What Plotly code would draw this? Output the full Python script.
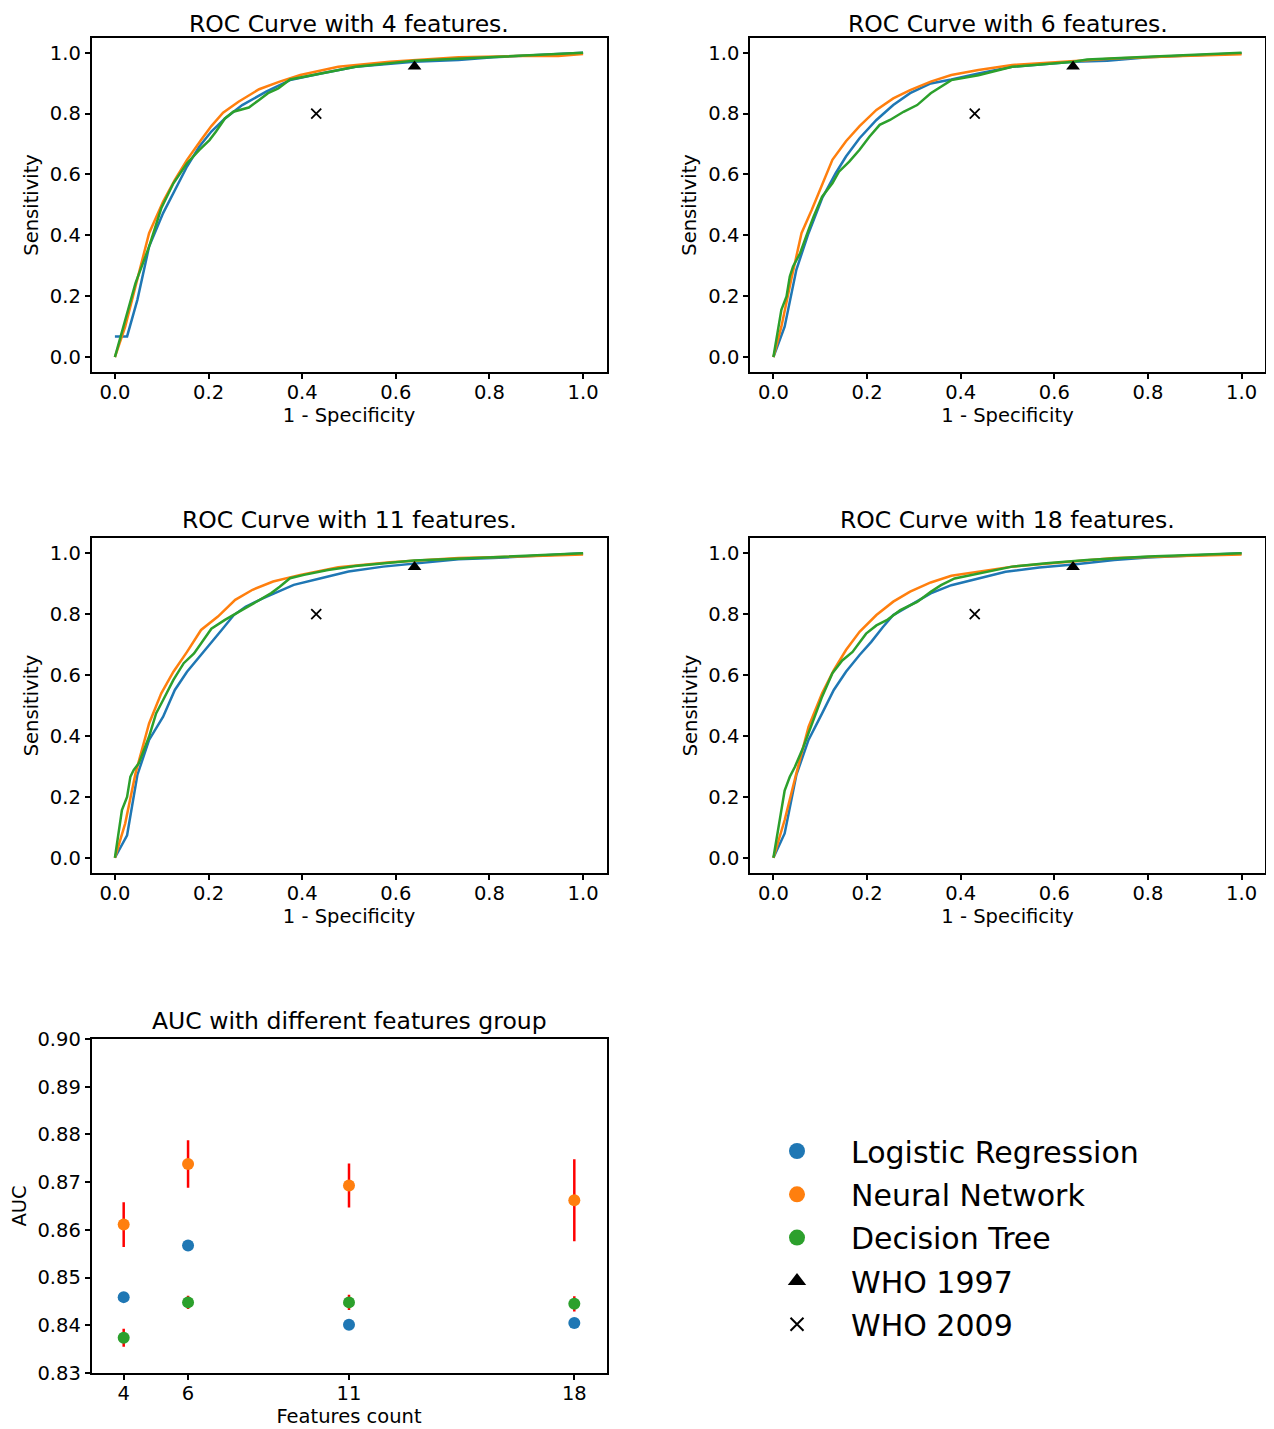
import plotly.graph_objects as go

# ---------------- data ----------------
feature_groups = [4, 6, 11, 18]
model_names = ["Logistic Regression", "Neural Network", "Decision Tree"]
colors = ["#1f77b4", "#ff7f0e", "#2ca02c"]

# ROC curves, 4 features
lr4_fpr = [0.0, 0.026, 0.048, 0.073, 0.103, 0.128, 0.154, 0.18, 0.206, 0.235, 0.272, 0.323, 0.374, 0.44, 0.514, 0.639, 0.734, 0.808, 1.0]
lr4_tpr = [0.068, 0.068, 0.188, 0.363, 0.473, 0.549, 0.626, 0.691, 0.741, 0.784, 0.828, 0.872, 0.91, 0.932, 0.954, 0.97, 0.976, 0.985, 1.0]
nn4_fpr = [0.0, 0.022, 0.073, 0.103, 0.128, 0.154, 0.184, 0.206, 0.231, 0.264, 0.308, 0.352, 0.396, 0.477, 0.587, 0.734, 0.881, 0.947, 1.0]
nn4_tpr = [0.0, 0.1, 0.407, 0.511, 0.582, 0.648, 0.713, 0.759, 0.803, 0.839, 0.88, 0.905, 0.927, 0.954, 0.97, 0.985, 0.99, 0.989, 0.996]
dt4_fpr = [0.0, 0.044, 0.073, 0.099, 0.125, 0.154, 0.18, 0.202, 0.216, 0.235, 0.253, 0.286, 0.308, 0.327, 0.349, 0.374, 0.44, 0.514, 0.639, 0.808, 1.0]
dt4_tpr = [0.0, 0.243, 0.363, 0.489, 0.571, 0.637, 0.68, 0.713, 0.741, 0.784, 0.806, 0.82, 0.845, 0.867, 0.883, 0.912, 0.932, 0.954, 0.974, 0.987, 1.0]

# ROC curves, 6 features
lr6_fpr = [0.0, 0.024, 0.049, 0.075, 0.104, 0.133, 0.155, 0.184, 0.22, 0.256, 0.292, 0.336, 0.38, 0.438, 0.51, 0.641, 0.713, 0.8, 1.0]
lr6_tpr = [0.0, 0.1, 0.287, 0.407, 0.522, 0.604, 0.659, 0.719, 0.779, 0.828, 0.867, 0.899, 0.912, 0.932, 0.954, 0.97, 0.974, 0.985, 0.998]
nn6_fpr = [0.0, 0.017, 0.038, 0.06, 0.082, 0.104, 0.126, 0.155, 0.184, 0.22, 0.256, 0.292, 0.336, 0.38, 0.438, 0.51, 0.619, 0.728, 0.873, 1.0]
nn6_tpr = [0.0, 0.1, 0.254, 0.407, 0.484, 0.566, 0.648, 0.709, 0.759, 0.812, 0.85, 0.877, 0.905, 0.927, 0.943, 0.96, 0.97, 0.981, 0.989, 0.995]
dt6_fpr = [0.0, 0.017, 0.028, 0.035, 0.042, 0.057, 0.075, 0.086, 0.104, 0.126, 0.14, 0.162, 0.184, 0.205, 0.227, 0.249, 0.278, 0.307, 0.336, 0.358, 0.38, 0.438, 0.51, 0.641, 0.67, 0.8, 1.0]
dt6_tpr = [0.0, 0.155, 0.199, 0.265, 0.298, 0.341, 0.418, 0.462, 0.527, 0.571, 0.609, 0.642, 0.681, 0.724, 0.763, 0.779, 0.806, 0.828, 0.867, 0.888, 0.91, 0.926, 0.954, 0.97, 0.978, 0.987, 1.0]

# ROC curves, 11 features
lr11_fpr = [0.0, 0.026, 0.048, 0.073, 0.103, 0.128, 0.154, 0.184, 0.206, 0.228, 0.254, 0.279, 0.316, 0.382, 0.44, 0.499, 0.573, 0.639, 0.734, 0.808, 1.0]
lr11_tpr = [0.0, 0.074, 0.272, 0.387, 0.463, 0.551, 0.611, 0.666, 0.704, 0.748, 0.797, 0.824, 0.852, 0.896, 0.918, 0.94, 0.956, 0.965, 0.98, 0.984, 1.0]
nn11_fpr = [0.0, 0.022, 0.044, 0.073, 0.099, 0.125, 0.154, 0.184, 0.22, 0.257, 0.294, 0.338, 0.396, 0.477, 0.587, 0.734, 0.881, 1.0]
nn11_tpr = [0.0, 0.113, 0.277, 0.441, 0.54, 0.611, 0.676, 0.748, 0.792, 0.847, 0.88, 0.907, 0.929, 0.954, 0.97, 0.984, 0.99, 0.996]
dt11_fpr = [0.0, 0.015, 0.026, 0.033, 0.04, 0.051, 0.073, 0.088, 0.103, 0.125, 0.147, 0.169, 0.206, 0.235, 0.272, 0.308, 0.334, 0.352, 0.374, 0.404, 0.455, 0.514, 0.639, 0.808, 1.0]
dt11_tpr = [0.0, 0.157, 0.2, 0.266, 0.288, 0.31, 0.398, 0.474, 0.518, 0.584, 0.639, 0.671, 0.752, 0.781, 0.814, 0.847, 0.869, 0.89, 0.918, 0.929, 0.945, 0.958, 0.976, 0.987, 1.0]

# ROC curves, 18 features
lr18_fpr = [0.0, 0.024, 0.049, 0.075, 0.104, 0.129, 0.155, 0.184, 0.209, 0.234, 0.256, 0.292, 0.336, 0.38, 0.438, 0.496, 0.568, 0.641, 0.728, 0.8, 1.0]
lr18_tpr = [0.0, 0.08, 0.272, 0.387, 0.474, 0.551, 0.611, 0.666, 0.709, 0.758, 0.797, 0.829, 0.868, 0.895, 0.917, 0.939, 0.953, 0.963, 0.978, 0.986, 1.0]
nn18_fpr = [0.0, 0.024, 0.049, 0.075, 0.104, 0.129, 0.155, 0.184, 0.22, 0.256, 0.292, 0.336, 0.38, 0.438, 0.51, 0.619, 0.728, 0.873, 1.0]
nn18_tpr = [0.0, 0.124, 0.277, 0.43, 0.54, 0.616, 0.682, 0.742, 0.797, 0.841, 0.874, 0.904, 0.926, 0.94, 0.956, 0.97, 0.984, 0.991, 0.996]
dt18_fpr = [0.0, 0.017, 0.024, 0.035, 0.046, 0.064, 0.082, 0.104, 0.126, 0.147, 0.169, 0.198, 0.22, 0.242, 0.271, 0.307, 0.336, 0.358, 0.387, 0.438, 0.51, 0.583, 0.67, 0.8, 1.0]
dt18_tpr = [0.0, 0.157, 0.221, 0.266, 0.299, 0.364, 0.441, 0.529, 0.606, 0.648, 0.676, 0.736, 0.763, 0.78, 0.813, 0.84, 0.873, 0.895, 0.917, 0.934, 0.956, 0.967, 0.978, 0.989, 1.0]

# WHO criteria points (1 - specificity, sensitivity)
who1997_fpr = [0.64]
who1997_tpr = [0.955]
who2009_fpr = [0.43]
who2009_tpr = [0.80]

# AUC means and standard deviations
auc_lr = [0.8459, 0.8567, 0.8401, 0.8405]
auc_nn = [0.8611, 0.8738, 0.8693, 0.8662]
auc_dt = [0.8374, 0.8448, 0.8448, 0.8445]
auc_nn_err = [0.0047, 0.0050, 0.0046, 0.0086]
auc_dt_err = [0.0019, 0.0014, 0.0016, 0.0016]

roc_titles = ["ROC Curve with 4 features.", "ROC Curve with 6 features.",
              "ROC Curve with 11 features.", "ROC Curve with 18 features."]
roc_data = [
    [(lr4_fpr, lr4_tpr), (nn4_fpr, nn4_tpr), (dt4_fpr, dt4_tpr)],
    [(lr6_fpr, lr6_tpr), (nn6_fpr, nn6_tpr), (dt6_fpr, dt6_tpr)],
    [(lr11_fpr, lr11_tpr), (nn11_fpr, nn11_tpr), (dt11_fpr, dt11_tpr)],
    [(lr18_fpr, lr18_tpr), (nn18_fpr, nn18_tpr), (dt18_fpr, dt18_tpr)],
]

# ---------------- layout geometry ----------------
OFF = 8                      # page body margin
W, H = 1274 - OFF, 1429 - OFF
FONT = "DejaVu Sans"
TICK_FS = 19.5
TITLE_FS = 23.5
LEG_FS = 30

def px_x(x):
    return (x - OFF) / W

def px_y(y):
    return 1 - (y - OFF) / H

col_x = [(91.5, 606.5), (750, 1265)]
row_y = [(37.5, 372.3), (538, 873), (1039, 1373)]

fig = go.Figure()

axis_common = dict(showline=True, linecolor="black", linewidth=1.5, mirror=True,
                   ticks="outside", ticklen=5, tickwidth=1.5, tickcolor="black",
                   showgrid=False, zeroline=False, automargin=False,
                   tickfont=dict(family=FONT, size=TICK_FS, color="black"))

layout = dict(width=W, height=H, margin=dict(l=0, r=0, t=0, b=0, pad=0, autoexpand=False),
              plot_bgcolor="white", paper_bgcolor="white",
              font=dict(family=FONT, color="black"), showlegend=True)

annotations = []
for i in range(4):
    r, c = divmod(i, 2)
    n = i + 1
    xa = "x" if n == 1 else f"x{n}"
    ya = "y" if n == 1 else f"y{n}"
    xl, xr = col_x[c]
    yt, yb = row_y[r]
    layout[f"xaxis{n}"] = dict(axis_common, domain=[px_x(xl), px_x(xr)], anchor=ya,
                               range=[-0.05, 1.05], tickvals=[0, 0.2, 0.4, 0.6, 0.8, 1.0],
                               tickformat=".1f", ticklabelstandoff=-3,
                               title=dict(text="1 - Specificity", standoff=5,
                                          font=dict(family=FONT, size=TICK_FS, color="black")))
    layout[f"yaxis{n}"] = dict(axis_common, domain=[px_y(yb), px_y(yt)], anchor=xa,
                               range=[-0.05, 1.05], tickvals=[0, 0.2, 0.4, 0.6, 0.8, 1.0],
                               tickformat=".1f",
                               title=dict(text="Sensitivity", standoff=6,
                                          font=dict(family=FONT, size=TICK_FS, color="black")))
    for k, (fx, ty) in enumerate(roc_data[i]):
        fig.add_trace(go.Scatter(x=fx, y=ty, mode="lines", xaxis=xa, yaxis=ya,
                                 line=dict(color=colors[k], width=2.5),
                                 showlegend=False, name=model_names[k]))
    fig.add_trace(go.Scatter(x=who1997_fpr, y=who1997_tpr, mode="markers", xaxis=xa, yaxis=ya,
                             marker=dict(symbol="triangle-up", size=12, color="black"),
                             showlegend=False, name="WHO 1997"))
    fig.add_trace(go.Scatter(x=who2009_fpr, y=who2009_tpr, mode="markers", xaxis=xa, yaxis=ya,
                             marker=dict(symbol="x-thin", size=10, color="black",
                                         line=dict(width=1.8, color="black")),
                             showlegend=False, name="WHO 2009"))
    if r == 0:
        title_pos = dict(y=1.0, yanchor="top")
    else:
        title_pos = dict(y=px_y(yt - 18), yanchor="middle")
    annotations.append(dict(text=roc_titles[i], xref="paper", yref="paper",
                            x=px_x((xl + xr) / 2), xanchor="center", showarrow=False,
                            font=dict(family=FONT, size=TITLE_FS, color="black"),
                            **title_pos))

# AUC subplot
xl, xr = col_x[0]
yt, yb = row_y[2]
layout["xaxis5"] = dict(axis_common, domain=[px_x(xl), px_x(xr)], anchor="y5", range=[3, 19],
                        tickvals=feature_groups, ticktext=[str(v) for v in feature_groups],
                        ticklabelstandoff=-3,
                        title=dict(text="Features count", standoff=4,
                                   font=dict(family=FONT, size=TICK_FS, color="black")))
layout["yaxis5"] = dict(axis_common, domain=[px_y(yb), px_y(yt)], anchor="x5", range=[0.83, 0.90],
                        dtick=0.01, tick0=0.83, tickformat=".2f",
                        title=dict(text="AUC", standoff=6,
                                   font=dict(family=FONT, size=TICK_FS, color="black")))
annotations.append(dict(text="AUC with different features group", xref="paper", yref="paper",
                        x=px_x((xl + xr) / 2), y=px_y(yt - 18),
                        xanchor="center", yanchor="middle", showarrow=False,
                        font=dict(family=FONT, size=TITLE_FS, color="black")))

fig.add_trace(go.Scatter(x=feature_groups, y=auc_lr, mode="markers", xaxis="x5", yaxis="y5",
                         marker=dict(color=colors[0], size=12), showlegend=False,
                         name=model_names[0]))
fig.add_trace(go.Scatter(x=feature_groups, y=auc_nn, mode="markers", xaxis="x5", yaxis="y5",
                         marker=dict(color=colors[1], size=12), showlegend=False,
                         error_y=dict(type="data", array=auc_nn_err, color="red",
                                      thickness=2.5, width=0),
                         name=model_names[1]))
fig.add_trace(go.Scatter(x=feature_groups, y=auc_dt, mode="markers", xaxis="x5", yaxis="y5",
                         marker=dict(color=colors[2], size=12), showlegend=False,
                         error_y=dict(type="data", array=auc_dt_err, color="red",
                                      thickness=2.5, width=0),
                         name=model_names[2]))

# legend entries
for k in range(3):
    fig.add_trace(go.Scatter(x=[None], y=[None], mode="markers", xaxis="x5", yaxis="y5",
                             marker=dict(color=colors[k], size=16), name=model_names[k],
                             legendgroup=model_names[k]))
fig.add_trace(go.Scatter(x=[None], y=[None], mode="markers", xaxis="x5", yaxis="y5",
                         marker=dict(symbol="triangle-up", size=16, color="black"),
                         name="WHO 1997", legendgroup="WHO 1997"))
fig.add_trace(go.Scatter(x=[None], y=[None], mode="markers", xaxis="x5", yaxis="y5",
                         marker=dict(symbol="x-thin", size=13, color="black",
                                     line=dict(width=2, color="black")),
                         name="WHO 2009", legendgroup="WHO 2009"))

layout["legend"] = dict(x=px_x(743), y=px_y(1125), xanchor="left", yanchor="top",
                        font=dict(family=FONT, size=LEG_FS, color="black"),
                        bgcolor="rgba(0,0,0,0)", borderwidth=0,
                        tracegroupgap=1.3, itemwidth=98, traceorder="grouped")
layout["annotations"] = annotations
fig.update_layout(**layout)

fig.write_html("out.html")
